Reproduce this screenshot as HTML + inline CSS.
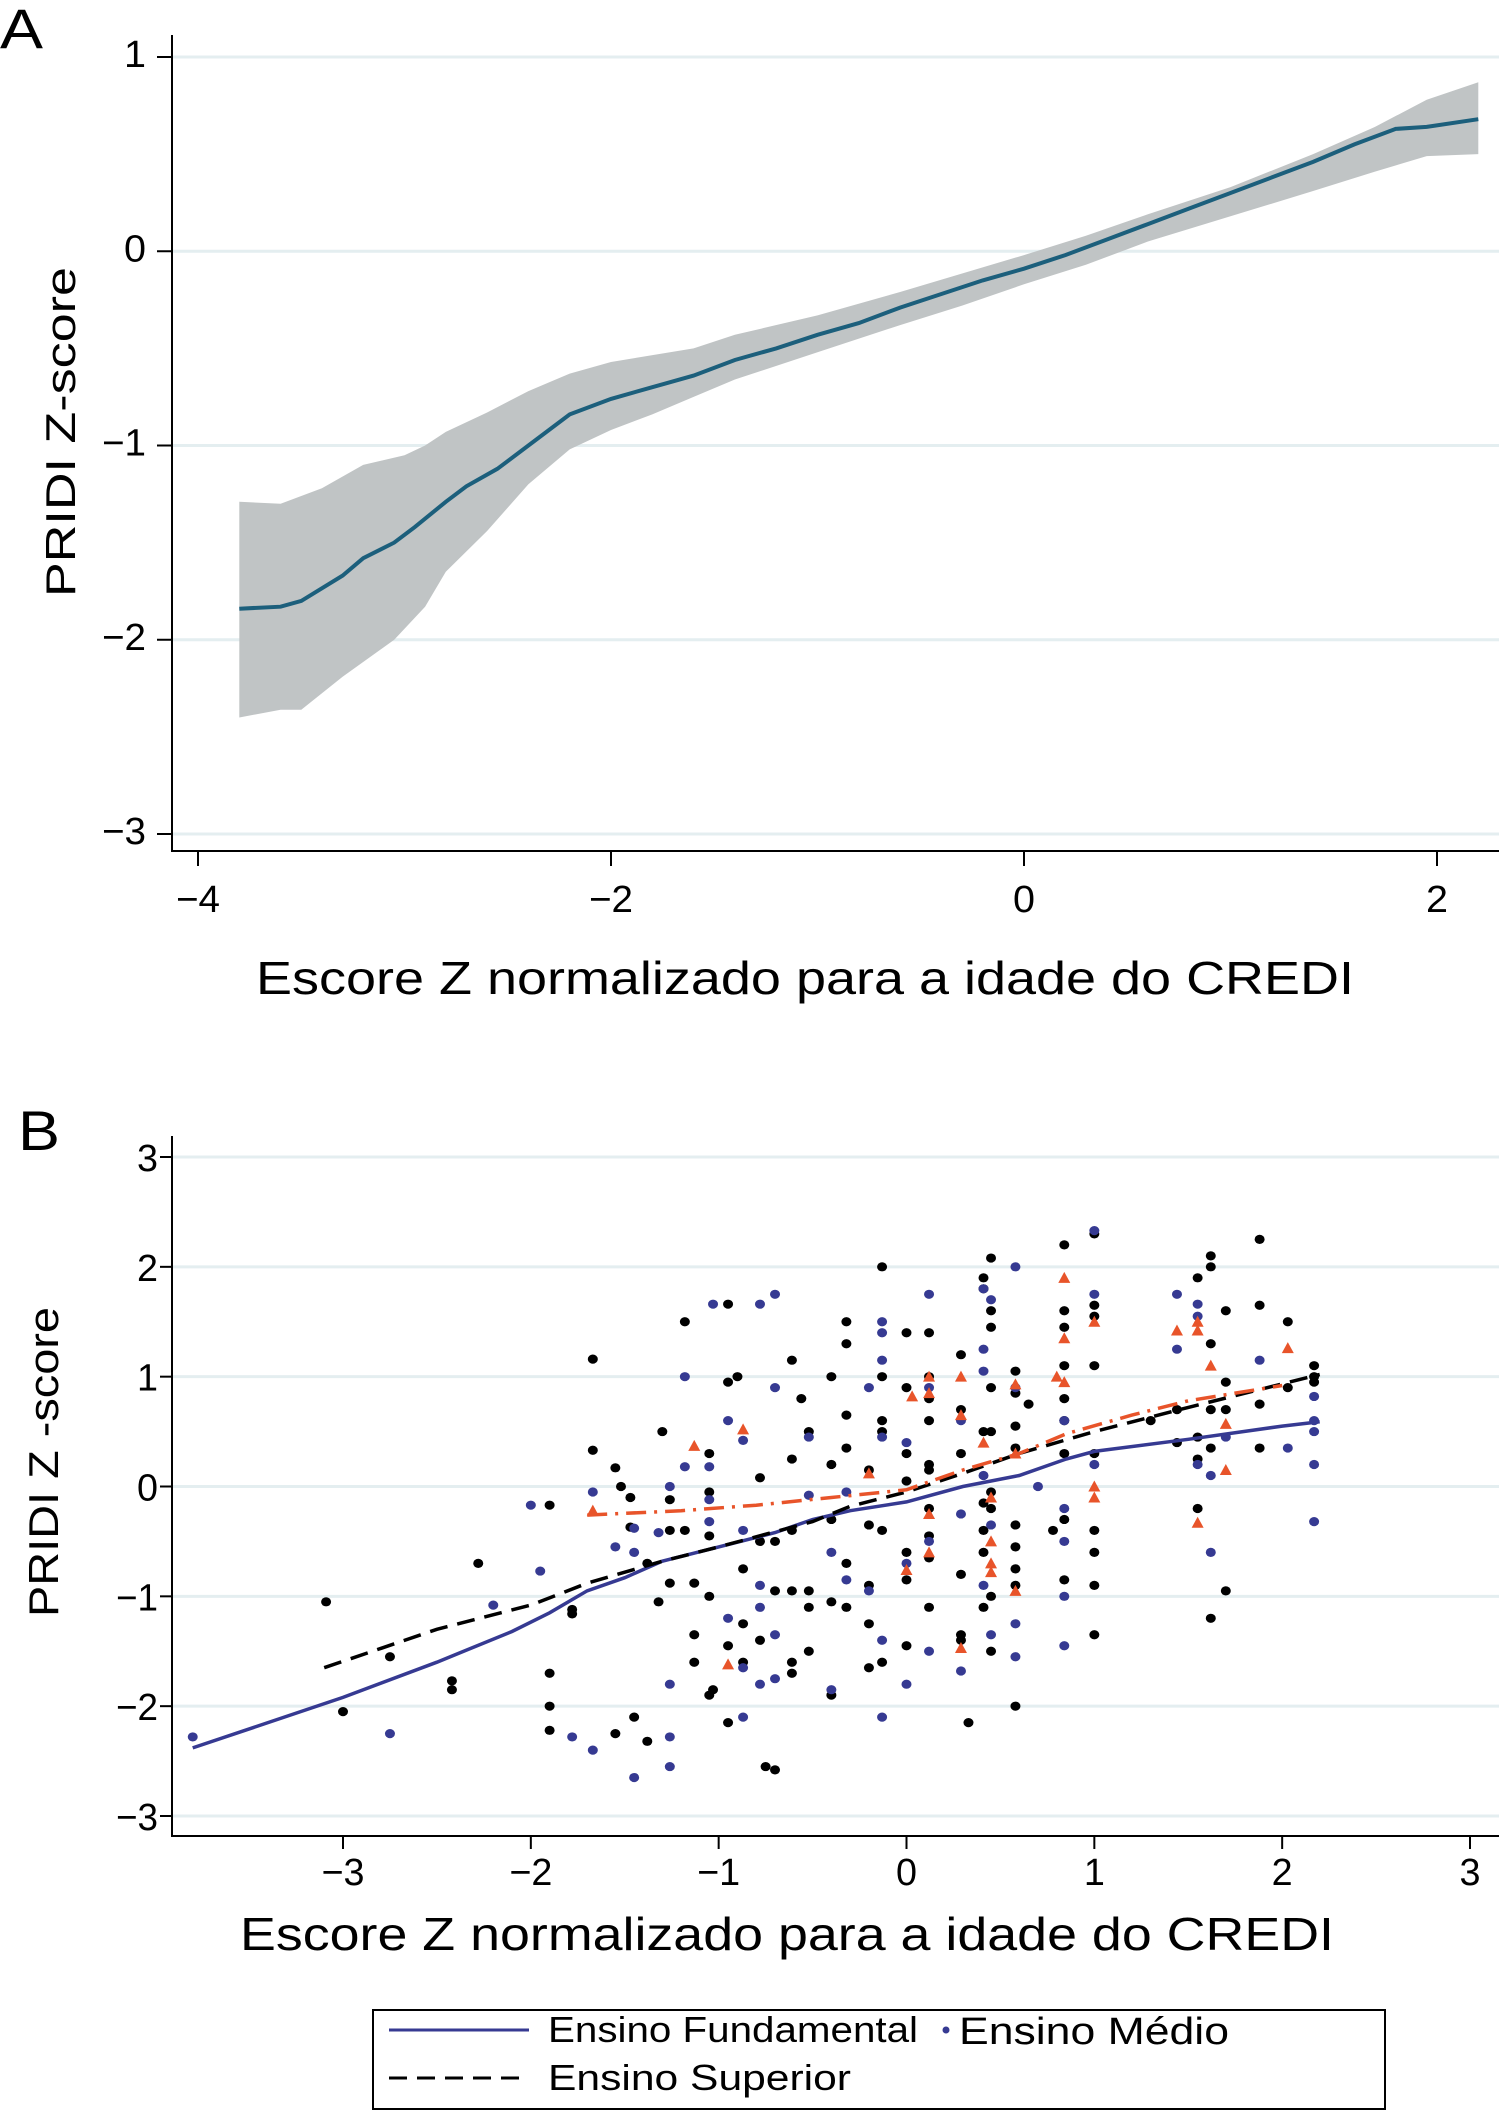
<!DOCTYPE html>
<html><head><meta charset="utf-8"><style>
html,body{margin:0;padding:0;background:#fff}
svg{display:block}
text{font-family:"Liberation Sans",sans-serif;fill:#000}
</style></head><body>
<svg id="fig" width="1499" height="2112" viewBox="0 0 1499 2112" xmlns="http://www.w3.org/2000/svg">
<g id="panelA"></g>
<g id="panelB"></g>
</svg>
<script>
// ---------- Panel A data ----------
const aLineX = [-3.8,-3.6,-3.5,-3.3,-3.2,-3.05,-2.95,-2.8,-2.7,-2.55,-2.4,-2.2,-2.0,-1.8,-1.6,-1.4,-1.2,-1.0,-0.8,-0.6,-0.4,-0.2,0,0.2,0.4,0.6,0.8,1.0,1.2,1.4,1.6,1.8,1.95,2.2];
const aLineY = [-1.84,-1.83,-1.80,-1.67,-1.58,-1.50,-1.42,-1.29,-1.21,-1.12,-1.0,-0.84,-0.76,-0.70,-0.64,-0.56,-0.50,-0.43,-0.37,-0.29,-0.22,-0.15,-0.09,-0.02,0.06,0.14,0.22,0.30,0.38,0.46,0.55,0.63,0.64,0.68];
const aUpX = [-3.8,-3.6,-3.4,-3.2,-3.0,-2.9,-2.8,-2.6,-2.4,-2.2,-2.0,-1.6,-1.4,-1.0,-0.6,0,0.3,0.6,1.0,1.4,1.7,1.95,2.2];
const aUpY = [-1.29,-1.30,-1.22,-1.10,-1.05,-1.0,-0.93,-0.83,-0.72,-0.63,-0.57,-0.50,-0.43,-0.33,-0.21,-0.02,0.08,0.19,0.33,0.50,0.64,0.78,0.87];
const aLoX = [-3.8,-3.6,-3.5,-3.3,-3.05,-2.9,-2.8,-2.6,-2.4,-2.2,-2.0,-1.8,-1.6,-1.4,-1.0,-0.6,-0.3,0,0.3,0.6,1.0,1.4,1.7,1.95,2.2];
const aLoY = [-2.40,-2.36,-2.36,-2.19,-2.0,-1.83,-1.65,-1.44,-1.20,-1.02,-0.92,-0.84,-0.75,-0.66,-0.52,-0.38,-0.28,-0.17,-0.07,0.05,0.18,0.31,0.41,0.49,0.50];
const aXTicks = [-4,-2,0,2];
const aYTicks = [1,0,-1,-2,-3];

// ---------- Panel B data ----------
const fundX = [-3.8,-3,-2.5,-2.1,-1.9,-1.7,-1.5,-1.3,-1,-0.7,-0.5,-0.3,0,0.3,0.6,0.85,1.0,1.5,2.0,2.2];
const fundY = [-2.38,-1.92,-1.6,-1.32,-1.15,-0.95,-0.83,-0.68,-0.55,-0.42,-0.30,-0.22,-0.14,0.0,0.1,0.25,0.32,0.43,0.55,0.59];
const supX = [-3.1,-2.5,-2,-1.7,-1.3,-1,-0.5,-0.3,0,0.3,0.6,1.0,1.5,2.2];
const supY = [-1.65,-1.3,-1.08,-0.88,-0.68,-0.55,-0.32,-0.18,-0.05,0.12,0.3,0.5,0.72,1.02];
const oraX = [-1.7,-1.2,-0.8,-0.4,0,0.3,0.6,0.85,1.2,1.5,2.0];
const oraY = [-0.26,-0.22,-0.17,-0.1,-0.03,0.15,0.3,0.48,0.65,0.78,0.92];
const blackX = [-3.09,-3.0,-2.75,-2.42,-2.42,-2.28,-1.9,-1.9,-1.9,-1.9,-1.78,-1.78,-1.67,-1.67,-1.55,-1.55,-1.52,-1.47,-1.47,-1.45,-1.38,-1.38,-1.32,-1.3,-1.26,-1.26,-1.26,-1.18,-1.18,-1.13,-1.13,-1.13,-1.05,-1.05,-1.05,-1.05,-1.05,-1.03,-0.95,-0.95,-0.95,-0.95,-0.9,-0.87,-0.87,-0.87,-0.78,-0.78,-0.78,-0.75,-0.7,-0.7,-0.7,-0.61,-0.61,-0.61,-0.61,-0.61,-0.61,-0.56,-0.52,-0.52,-0.52,-0.52,-0.4,-0.4,-0.4,-0.4,-0.4,-0.32,-0.32,-0.32,-0.32,-0.32,-0.32,-0.2,-0.2,-0.2,-0.2,-0.2,-0.13,-0.13,-0.13,-0.13,-0.13,-0.13,0,0,0,0,0,0,0,0.12,0.12,0.12,0.12,0.12,0.12,0.12,0.12,0.12,0.12,0.29,0.29,0.29,0.29,0.29,0.29,0.33,0.41,0.41,0.41,0.41,0.41,0.41,0.41,0.45,0.45,0.45,0.45,0.45,0.45,0.45,0.45,0.45,0.58,0.58,0.58,0.58,0.58,0.58,0.58,0.58,0.58,0.65,0.78,0.84,0.84,0.84,0.84,0.84,0.84,0.84,0.84,0.84,1.0,1.0,1.0,1.0,1.0,1.0,1.0,1.0,1.0,1.55,1.55,1.55,1.55,1.62,1.62,1.62,1.62,1.62,1.62,1.7,1.7,1.7,1.7,1.88,1.88,1.88,1.88,2.03,2.03,2.17,2.17,2.17,1.44,1.44,1.3];
const blackY = [-1.05,-2.05,-1.55,-1.77,-1.85,-0.7,-0.17,-1.7,-2.0,-2.22,-1.12,-1.16,1.16,0.33,0.17,-2.25,0.0,-0.37,-0.1,-2.1,-2.32,-0.7,-1.05,0.5,-0.12,-0.4,-0.88,1.5,-0.4,-0.88,-1.35,-1.6,0.3,-0.05,-0.45,-1.0,-1.9,-1.85,1.66,0.95,-1.45,-2.15,1.0,-0.75,-1.25,-1.6,0.08,-0.5,-1.4,-2.55,-0.95,-0.5,-2.58,1.15,0.25,-0.4,-0.95,-1.6,-1.7,0.8,0.5,-0.95,-1.1,-1.5,1.0,0.2,-0.3,-1.05,-1.9,1.5,1.3,0.65,0.35,-0.7,-1.1,0.15,-0.35,-0.9,-1.25,-1.65,1.0,0.6,0.5,-0.4,-1.6,2.0,1.4,0.9,0.3,-0.6,-0.85,-1.45,0.05,1.4,1.0,0.8,0.6,0.2,0.15,-0.2,-0.45,-0.65,-1.1,1.2,0.7,0.3,-0.8,-1.35,-1.4,-2.15,1.9,1.8,0.5,-0.15,-0.4,-0.6,-1.1,2.08,1.6,1.45,0.9,0.5,-0.05,-0.2,-1.0,-1.5,1.05,0.85,0.55,0.35,-0.35,-0.55,-0.75,-0.9,-2.0,0.75,-0.4,2.2,1.6,1.45,1.1,0.8,0.6,0.3,-0.3,-0.85,2.3,1.65,1.55,1.1,0.3,-0.4,-0.6,-0.9,-1.35,1.9,0.45,0.25,-0.2,2.1,2.0,1.3,0.7,0.35,-1.2,1.6,0.95,0.7,-0.95,2.25,1.65,0.75,0.35,1.5,0.9,1.1,1.0,0.95,0.7,0.4,0.6];
const blueX = [-3.8,-2.75,-2.2,-2.0,-1.95,-1.78,-1.67,-1.67,-1.55,-1.45,-1.45,-1.45,-1.32,-1.26,-1.26,-1.26,-1.26,-1.18,-1.18,-1.05,-1.05,-1.05,-1.03,-0.95,-0.95,-0.87,-0.87,-0.87,-0.87,-0.78,-0.78,-0.78,-0.78,-0.7,-0.7,-0.7,-0.7,-0.52,-0.52,-0.4,-0.4,-0.32,-0.32,-0.2,-0.2,-0.13,-0.13,-0.13,-0.13,-0.13,-0.13,0,0,0,0.12,0.12,0.12,0.12,0.29,0.29,0.29,0.41,0.41,0.41,0.41,0.41,0.45,0.45,0.45,0.58,0.58,0.58,0.58,0.7,0.84,0.84,0.84,0.84,0.84,1.0,1.0,1.0,1.44,1.44,1.55,1.55,1.55,1.62,1.62,1.7,1.88,2.03,2.17,2.17,2.17,2.17,2.17];
const blueY = [-2.28,-2.25,-1.08,-0.17,-0.77,-2.28,-2.4,-0.05,-0.55,-0.38,-0.6,-2.65,-0.42,-1.8,-2.28,-2.55,0.0,1.0,0.18,0.18,-0.12,-0.32,1.66,0.6,-1.2,0.42,-0.4,-1.65,-2.1,1.66,-0.9,-1.1,-1.8,0.9,1.75,-1.35,-1.75,0.45,-0.08,-0.6,-1.85,-0.05,-0.85,0.9,-0.95,1.5,1.4,0.45,1.15,-1.4,-2.1,0.4,-0.7,-1.8,1.75,0.9,-0.5,-1.5,0.6,-0.25,-1.68,1.8,1.25,1.05,0.1,-0.9,1.7,-0.35,-1.35,2.0,0.9,-1.25,-1.55,0.0,0.6,-0.2,-0.5,-1.0,-1.45,2.33,1.75,0.2,1.75,1.25,1.66,1.55,0.2,0.1,-0.6,0.45,1.15,0.35,0.82,0.6,0.5,0.2,-0.32];
const triX = [-1.67,-1.13,-0.95,-0.87,-0.2,0.0,0.03,0.12,0.12,0.12,0.12,0.29,0.29,0.29,0.41,0.45,0.45,0.45,0.45,0.58,0.58,0.58,0.8,0.84,0.84,0.84,1.0,1.0,1.0,1.44,1.55,1.55,1.55,1.62,1.7,1.7,2.03];
const triY = [-0.22,0.37,-1.62,0.52,0.12,-0.76,0.82,0.85,1.0,-0.25,-0.6,1.0,0.65,-1.47,0.4,-0.7,-0.5,-0.78,-0.1,0.93,0.3,-0.95,1.0,1.9,1.35,0.95,1.5,0.0,-0.1,1.42,1.5,1.42,-0.33,1.1,0.57,0.15,1.26];
const bXTicks = [-3,-2,-1,0,1,2,3];
const bYTicks = [3,2,1,0,-1,-2,-3];

// ---------- helpers ----------
const NS = 'http://www.w3.org/2000/svg';
function mk(parent, tag, attrs){const e=document.createElementNS(NS,tag);for(const k in attrs)e.setAttribute(k,attrs[k]);parent.appendChild(e);return e;}
function lin(d0,d1,p0,p1){return v=>p0+(v-d0)*(p1-p0)/(d1-d0);}
function pathOf(xs,ys,sx,sy){return xs.map((x,i)=>(i?'L':'M')+sx(x).toFixed(1)+','+sy(ys[i]).toFixed(1)).join(' ');}
function lab(t){return t<0?'\u2212'+Math.abs(t):String(t);}

// ---------- Panel A ----------
const A = document.getElementById('panelA');
const axA = lin(-4,2,198,1437), ayA = lin(-3,1,834,57);
let t = mk(A,'text',{x:0,y:48,'font-size':56,textLength:43,lengthAdjust:'spacingAndGlyphs'}); t.textContent='A';
 
aYTicks.forEach(v=>{
  let g=mk(A,'line',{x1:172,x2:1499,y1:ayA(v),y2:ayA(v),stroke:'#e4eef0','stroke-width':3});
   
  let k=mk(A,'line',{x1:157,x2:172,y1:ayA(v),y2:ayA(v),stroke:'#000','stroke-width':2});
   
  let s=lab(v); let tx=mk(A,'text',{x:146,y:ayA(v)+10,'font-size':38,'text-anchor':'end',textLength:s.length>1?44:22,lengthAdjust:'spacingAndGlyphs'}); tx.textContent=s;
   
});
aXTicks.forEach(v=>{
  let k=mk(A,'line',{x1:axA(v),x2:axA(v),y1:851,y2:866,stroke:'#000','stroke-width':2});
   
  let s=lab(v); let tx=mk(A,'text',{x:axA(v),y:912,'font-size':38,'text-anchor':'middle',textLength:s.length>1?44:22,lengthAdjust:'spacingAndGlyphs'}); tx.textContent=s;
   
});
let band = mk(A,'path',{d:pathOf(aUpX,aUpY,axA,ayA)+' '+pathOf(aLoX.slice().reverse(),aLoY.slice().reverse(),axA,ayA).replace('M','L')+' Z',fill:'#c0c4c5',stroke:'none'});
 
let la = mk(A,'path',{d:pathOf(aLineX,aLineY,axA,ayA),fill:'none',stroke:'#1c5f7c','stroke-width':4});
 
let ya=mk(A,'line',{x1:172,x2:172,y1:35,y2:852,stroke:'#000','stroke-width':2});  
let xa=mk(A,'line',{x1:171,x2:1499,y1:851,y2:851,stroke:'#000','stroke-width':2});  
let yt=mk(A,'text',{x:0,y:0,'font-size':42,'text-anchor':'middle',transform:'translate(75,432) rotate(-90)',textLength:330,lengthAdjust:'spacingAndGlyphs'}); yt.textContent='PRIDI Z-score';
 
let xt=mk(A,'text',{x:805,y:994,'font-size':46,'text-anchor':'middle',textLength:1098,lengthAdjust:'spacingAndGlyphs'}); xt.textContent='Escore Z normalizado para a idade do CREDI';
 

// ---------- Panel B ----------
const B = document.getElementById('panelB');
const axB = lin(-3,3,343,1470), ayB = lin(-3,3,1816,1157);
t = mk(B,'text',{x:18,y:1150,'font-size':56,textLength:42,lengthAdjust:'spacingAndGlyphs'}); t.textContent='B';
 
bYTicks.forEach(v=>{
  let g=mk(B,'line',{x1:172,x2:1499,y1:ayB(v),y2:ayB(v),stroke:'#e4eef0','stroke-width':3});
   
  let k=mk(B,'line',{x1:160,x2:172,y1:ayB(v),y2:ayB(v),stroke:'#000','stroke-width':2});
   
  let s=lab(v); let tx=mk(B,'text',{x:158,y:ayB(v)+14,'font-size':38,'text-anchor':'end',textLength:s.length>1?42:21,lengthAdjust:'spacingAndGlyphs'}); tx.textContent=s;
   
});
bXTicks.forEach(v=>{
  let k=mk(B,'line',{x1:axB(v),x2:axB(v),y1:1836,y2:1849,stroke:'#000','stroke-width':2});
   
  let s=lab(v); let tx=mk(B,'text',{x:axB(v),y:1885,'font-size':38,'text-anchor':'middle',textLength:s.length>1?43:21,lengthAdjust:'spacingAndGlyphs'}); tx.textContent=s;
   
});
blackX.forEach((x,i)=>{
  let c=mk(B,'ellipse',{cx:axB(x),cy:ayB(blackY[i]),rx:5,ry:4.6,fill:'#000'});
   
});
blueX.forEach((x,i)=>{
  let c=mk(B,'ellipse',{cx:axB(x),cy:ayB(blueY[i]),rx:5,ry:4.6,fill:'#363a92'});
   
});
triX.forEach((x,i)=>{
  const cx=axB(x), cy=ayB(triY[i]);
  let p=mk(B,'polygon',{points:`${cx-6},${cy+5} ${cx+6},${cy+5} ${cx},${cy-6}`,fill:'#e8542a'});
   
});
let lf=mk(B,'path',{d:pathOf(fundX,fundY,axB,ayB),fill:'none',stroke:'#363a92','stroke-width':3.5});
 
let ls=mk(B,'path',{d:pathOf(supX,supY,axB,ayB),fill:'none',stroke:'#000','stroke-width':3.5,'stroke-dasharray':'18 10'});
 
let lo=mk(B,'path',{d:pathOf(oraX,oraY,axB,ayB),fill:'none',stroke:'#e8542a','stroke-width':3.5,'stroke-dasharray':'20 8 3 8'});
 
let yb=mk(B,'line',{x1:172,x2:172,y1:1136,y2:1837,stroke:'#000','stroke-width':2});  
let xb=mk(B,'line',{x1:171,x2:1499,y1:1836,y2:1836,stroke:'#000','stroke-width':2});  
let ytb=mk(B,'text',{x:0,y:0,'font-size':42,'text-anchor':'middle',transform:'translate(58,1462) rotate(-90)',textLength:310,lengthAdjust:'spacingAndGlyphs'}); ytb.textContent='PRIDI Z -score';
 
let xtb=mk(B,'text',{x:787,y:1950,'font-size':46,'text-anchor':'middle',textLength:1094,lengthAdjust:'spacingAndGlyphs'}); xtb.textContent='Escore Z normalizado para a idade do CREDI';
 

// legend
const L = mk(B,'g',{});
 
let box=mk(L,'rect',{x:373,y:2010,width:1012,height:99,fill:'#fff',stroke:'#000','stroke-width':2});
 
let s1=mk(L,'line',{x1:389,x2:529,y1:2030,y2:2030,stroke:'#363a92','stroke-width':3});
 
let t1=mk(L,'text',{x:548,y:2042,'font-size':36,textLength:370,lengthAdjust:'spacingAndGlyphs'}); t1.textContent='Ensino Fundamental';
 
let s2=mk(L,'circle',{cx:946,cy:2030,r:3.5,fill:'#363a92'});
 
let t2=mk(L,'text',{x:959,y:2044,'font-size':38,textLength:270,lengthAdjust:'spacingAndGlyphs'}); t2.textContent='Ensino Médio';
 
let s3=mk(L,'line',{x1:389,x2:529,y1:2078,y2:2078,stroke:'#000','stroke-width':3,'stroke-dasharray':'18 10'});
 
let t3=mk(L,'text',{x:548,y:2090,'font-size':36,textLength:303,lengthAdjust:'spacingAndGlyphs'}); t3.textContent='Ensino Superior';
 
</script>
</body></html>
